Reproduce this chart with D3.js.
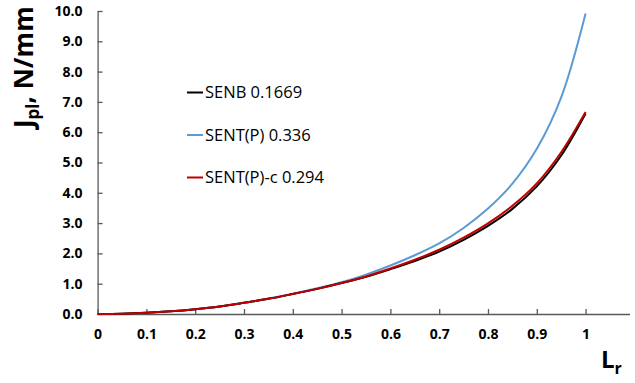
<!DOCTYPE html>
<html>
<head>
<meta charset="utf-8">
<script src="https://cdn.jsdelivr.net/npm/d3@7"></script>
<style>
  html, body { margin: 0; padding: 0; background: #fff; }
  svg { display: block; }
  .tick text { font-family: "Open Sans", sans-serif; font-weight: bold; font-size: 14px; fill: #000; }
  .legend text { font-family: "Open Sans", sans-serif; font-size: 16.5px; fill: #000; }
  .title { font-family: "Open Sans", sans-serif; font-weight: bold; fill: #000; }
</style>
</head>
<body>
<svg id="chart" width="635" height="383"></svg>
<script>
// Reference load ratio
const lr = [0, 0.05, 0.1, 0.15, 0.2, 0.25, 0.3, 0.35, 0.4, 0.45, 0.5,
            0.55, 0.6, 0.65, 0.7, 0.75, 0.8, 0.85, 0.9, 0.95, 1.0];

// Plastic part of J, N/mm
const senb    = [0, 0.01, 0.04, 0.09, 0.16, 0.25, 0.37, 0.50, 0.66, 0.83, 1.02,
                 1.23, 1.48, 1.75, 2.06, 2.45, 2.91, 3.47, 4.21, 5.23, 6.62];
const sentP   = [0, 0.01, 0.04, 0.09, 0.16, 0.25, 0.37, 0.51, 0.67, 0.85, 1.05,
                 1.30, 1.60, 1.94, 2.33, 2.84, 3.48, 4.30, 5.45, 7.15, 9.92];
const sentPc  = [0, 0.01, 0.04, 0.09, 0.16, 0.25, 0.37, 0.50, 0.66, 0.83, 1.02,
                 1.24, 1.50, 1.79, 2.12, 2.52, 2.99, 3.57, 4.31, 5.34, 6.67];

const seriesNames  = ["SENB 0.1669", "SENT(P) 0.336", "SENT(P)-c 0.294"];
const seriesColors = ["#000000", "#5B9BD5", "#C00000"];

const xTicks = [0, 0.1, 0.2, 0.3, 0.4, 0.5, 0.6, 0.7, 0.8, 0.9, 1];
const xTickLabels = ["0", "0.1", "0.2", "0.3", "0.4", "0.5", "0.6", "0.7", "0.8", "0.9", "1"];
const yTicks = [0, 1, 2, 3, 4, 5, 6, 7, 8, 9, 10];
const yTickLabels = ["0.0", "1.0", "2.0", "3.0", "4.0", "5.0", "6.0", "7.0", "8.0", "9.0", "10.0"];

const svg = d3.select("#chart");

const x = d3.scaleLinear().domain([0, 1.09]).range([97.6, 629.5]);
const y = d3.scaleLinear().domain([0, 10]).range([314, 11]);

const axisColor = "#595959";

// Axes with inward ticks
const gx = svg.append("g")
  .attr("transform", `translate(0,${y(0)})`)
  .call(d3.axisBottom(x).tickValues(xTicks)
    .tickFormat((d, i) => xTickLabels[i])
    .tickSizeInner(-5).tickSizeOuter(0).tickPadding(15));
gx.select(".domain").attr("stroke", axisColor).attr("stroke-width", 1.3);
gx.selectAll(".tick line").attr("stroke", axisColor).attr("stroke-width", 1.3);

const gy = svg.append("g")
  .attr("transform", `translate(${x(0)},0)`)
  .call(d3.axisLeft(y).tickValues(yTicks)
    .tickFormat((d, i) => yTickLabels[i])
    .tickSizeInner(-5).tickSizeOuter(0).tickPadding(15));
gy.select(".domain").attr("stroke", axisColor).attr("stroke-width", 1.3);
gy.selectAll(".tick line").attr("stroke", axisColor).attr("stroke-width", 1.3);

// Curves
const line = d3.line()
  .x((d, i) => x(lr[i]))
  .y(d => y(d))
  .curve(d3.curveCatmullRom.alpha(0.5));

const drawOrder = [1, 0, 2];
const data = [senb, sentP, sentPc];
drawOrder.forEach(k => {
  svg.append("path")
    .datum(data[k])
    .attr("fill", "none")
    .attr("stroke", seriesColors[k])
    .attr("stroke-width", 2)
    .attr("d", line);
});

// Legend
const legend = svg.append("g").attr("class", "legend");
seriesNames.forEach((name, i) => {
  const ly = 92.5 + i * 42.5;
  legend.append("line")
    .attr("x1", 187).attr("x2", 203)
    .attr("y1", ly).attr("y2", ly)
    .attr("stroke", seriesColors[i]).attr("stroke-width", 2);
  legend.append("text")
    .attr("x", 205).attr("y", ly + 5.5)
    .text(name);
});

// Axis titles
const yt = svg.append("text")
  .attr("class", "title")
  .attr("transform", "translate(33,128) rotate(-90)")
  .attr("font-size", 26);
yt.append("tspan").text("J");
yt.append("tspan").attr("font-size", 17).attr("dy", 6).text("pl");
yt.append("tspan").attr("dy", -6).text(", N/mm");

const xt = svg.append("text")
  .attr("class", "title")
  .attr("x", 601).attr("y", 368)
  .attr("font-size", 24);
xt.append("tspan").text("L");
xt.append("tspan").attr("font-size", 16).attr("dy", 6).text("r");
</script>
</body>
</html>
